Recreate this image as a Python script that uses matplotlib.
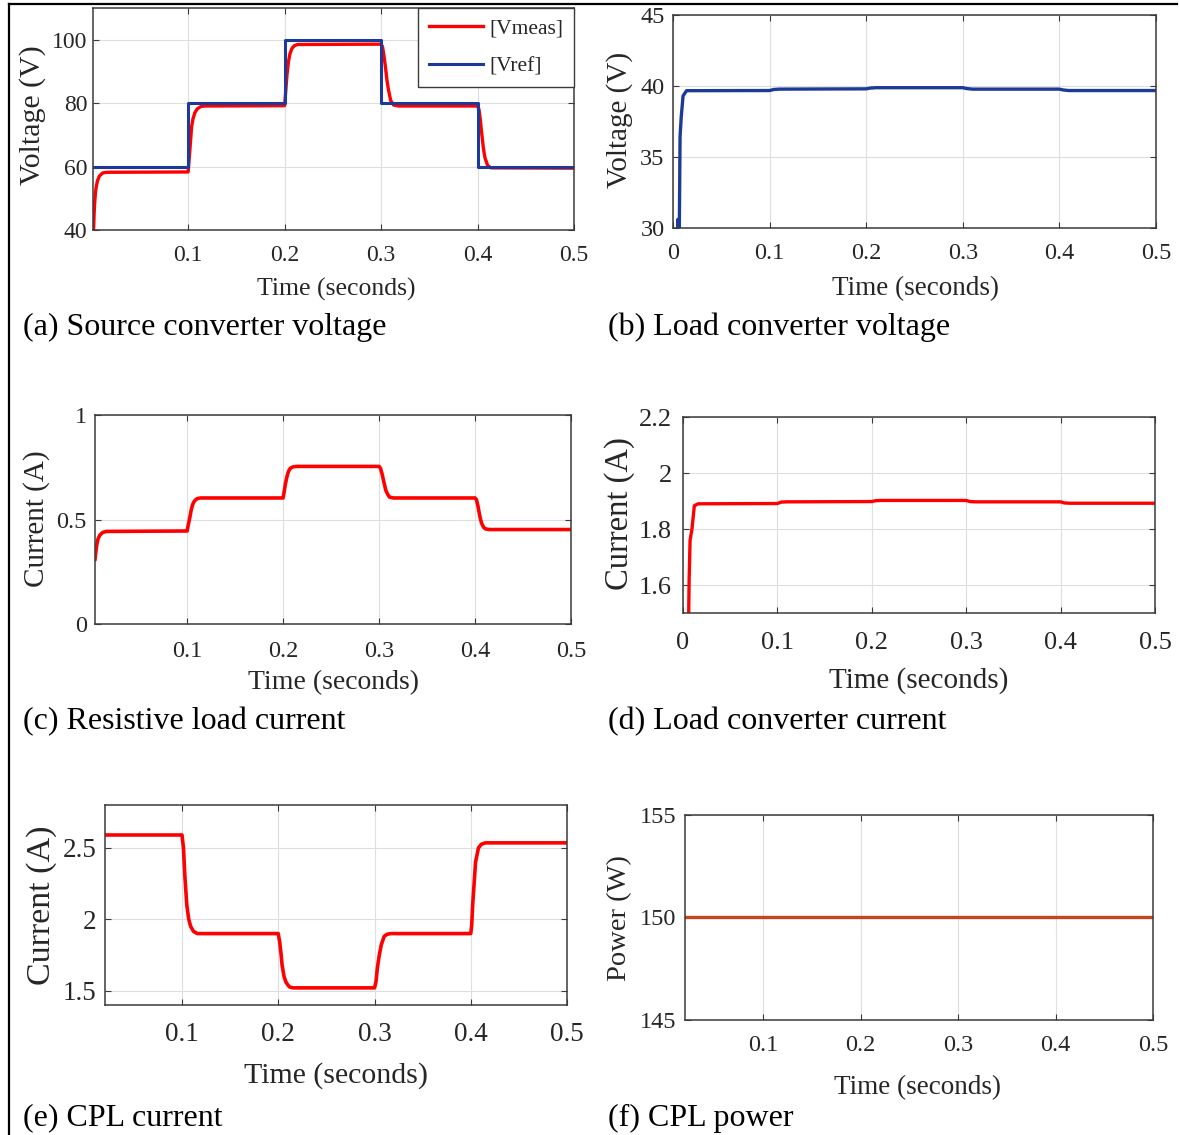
import matplotlib
matplotlib.use("Agg")
import matplotlib.pyplot as plt
from matplotlib.lines import Line2D
from matplotlib.ticker import FuncFormatter

plt.rcParams["font.family"] = ["Liberation Serif", "DejaVu Serif"]

# ---------------- data ----------------
# (a) source converter voltage
t_vref = [0.0014, 0.1, 0.1, 0.2, 0.2, 0.3, 0.3, 0.4, 0.4, 0.5]
v_ref = [60, 60, 80, 80, 100, 100, 80, 80, 60, 60]
t_vmeas = [0.0014, 0.002, 0.0025, 0.003, 0.004, 0.005, 0.006, 0.008, 0.0115, 0.016,
           0.1, 0.101, 0.1025, 0.1036, 0.105, 0.107, 0.1095, 0.1135, 0.118,
           0.2, 0.201, 0.2025, 0.204, 0.2055, 0.2075, 0.21, 0.2135, 0.218,
           0.3, 0.3015, 0.303, 0.3045, 0.306, 0.3075, 0.31, 0.313, 0.318,
           0.4, 0.4015, 0.403, 0.4045, 0.406, 0.4075, 0.4105, 0.414, 0.5]
v_meas = [36, 40, 44.5, 48, 52, 54, 55.5, 57, 58, 58.2,
          58.3, 62, 68, 72.5, 75, 77, 78.2, 79, 79.1,
          79.2, 83, 89, 93, 95.5, 97.2, 98.1, 98.5, 98.5,
          98.6, 97.8, 95, 91.5, 87.5, 84.5, 80.8, 79.4, 79.1,
          79.1, 78, 74.5, 70, 66, 63, 60.3, 59.6, 59.5]

# (b) load converter voltage
t_vload = [0.0045, 0.005, 0.0055, 0.0065, 0.0073, 0.0085, 0.0104, 0.014,
           0.1, 0.104, 0.11, 0.2, 0.204, 0.21, 0.3, 0.304, 0.31,
           0.4, 0.404, 0.41, 0.5]
v_load = [29.5, 30.6, 29.5, 29.5, 36.4, 37.8, 39.3, 39.67,
          39.68, 39.75, 39.78, 39.8, 39.85, 39.88, 39.88, 39.82, 39.78,
          39.78, 39.72, 39.68, 39.68]

# (c) resistive load current
t_ir = [0.004, 0.0055, 0.007, 0.009, 0.012, 0.016,
        0.1, 0.101, 0.1024, 0.104, 0.1056, 0.1075, 0.1104, 0.114,
        0.2, 0.201, 0.2024, 0.204, 0.2056, 0.2075, 0.2104, 0.214,
        0.3, 0.3015, 0.303, 0.304, 0.3055, 0.307, 0.309, 0.311, 0.315,
        0.4, 0.4015, 0.403, 0.404, 0.4055, 0.407, 0.409, 0.411, 0.415, 0.5]
i_r = [0.31, 0.37, 0.405, 0.425, 0.438, 0.443,
       0.445, 0.47, 0.5, 0.54, 0.57, 0.588, 0.6, 0.603,
       0.603, 0.63, 0.67, 0.705, 0.73, 0.745, 0.752, 0.754,
       0.754, 0.745, 0.72, 0.7, 0.67, 0.64, 0.62, 0.607, 0.603,
       0.603, 0.595, 0.565, 0.54, 0.505, 0.48, 0.462, 0.455, 0.452, 0.452]

# (d) load converter current
t_iload = [0.006, 0.0065, 0.0075, 0.0095, 0.012, 0.016,
           0.1, 0.104, 0.11, 0.2, 0.204, 0.21, 0.3, 0.304, 0.31,
           0.4, 0.404, 0.41, 0.5]
i_load = [1.49, 1.62, 1.76, 1.80, 1.883, 1.89,
          1.891, 1.896, 1.897, 1.898, 1.901, 1.902, 1.902, 1.898, 1.897,
          1.897, 1.893, 1.892, 1.892]

# (e) CPL current
t_icpl = [0.02, 0.1, 0.1015, 0.103, 0.105, 0.107, 0.109, 0.112, 0.116,
          0.2, 0.2015, 0.203, 0.204, 0.206, 0.208, 0.21, 0.212, 0.216,
          0.3, 0.3015, 0.303, 0.305, 0.307, 0.31, 0.313, 0.317,
          0.4, 0.401, 0.402, 0.4035, 0.405, 0.408, 0.411, 0.415, 0.5]
i_cpl = [2.59, 2.59, 2.5, 2.3, 2.1, 2.0, 1.95, 1.915, 1.9,
         1.9, 1.84, 1.75, 1.68, 1.6, 1.56, 1.54, 1.525, 1.52,
         1.52, 1.56, 1.66, 1.75, 1.82, 1.88, 1.895, 1.9,
         1.9, 1.96, 2.1, 2.25, 2.4, 2.5, 2.525, 2.535, 2.535]

# (f) CPL power
t_pcpl = [0.02, 0.5]
p_cpl = [150, 150]

x_ticks = [0.1, 0.2, 0.3, 0.4, 0.5]
x_ticks0 = [0, 0.1, 0.2, 0.3, 0.4, 0.5]

captions = ["(a) Source converter voltage", "(b) Load converter voltage",
            "(c) Resistive load current", "(d) Load converter current",
            "(e) CPL current", "(f) CPL power"]

# ---------------- figure ----------------
W, H = 1179, 1135
fig = plt.figure(figsize=(W / 100, H / 100), dpi=100)

RED = "#ff0000"
BLUE = "#1c3a98"
ORANGE = "#c4461a"
TXT = "#262626"


def fx(x):
    return x / W


def fy(y):
    return 1 - y / H


def make_axes(l, t, r, b):
    return fig.add_axes([l / W, 1 - b / H, (r - l) / W, (b - t) / H])


fmt = FuncFormatter(lambda v, p: f"{v:g}")


def style(ax, xlim, ylim, xt, yt, fs, xpad=12, ypad=4):
    ax.set_xlim(*xlim)
    ax.set_ylim(*ylim)
    ax.set_xticks(xt)
    ax.set_yticks(yt)
    ax.xaxis.set_major_formatter(fmt)
    ax.yaxis.set_major_formatter(fmt)
    ax.grid(True, color="#dedede", lw=0.8)
    ax.set_axisbelow(True)
    for s in ax.spines.values():
        s.set_color("#3a3a3a")
        s.set_linewidth(1.1)
    ax.tick_params(direction="in", length=4, width=0.8, top=True, right=True,
                   colors="#3a3a3a", labelcolor=TXT, labelsize=fs)
    ax.tick_params(axis="x", pad=xpad)
    ax.tick_params(axis="y", pad=ypad)


def labels(xl_xy, xl, xfs, yl_xy, yl, yfs):
    fig.text(fx(xl_xy[0]), fy(xl_xy[1]), xl, ha="center", va="center",
             fontsize=xfs, color=TXT)
    fig.text(fx(yl_xy[0]), fy(yl_xy[1]), yl, ha="center", va="center",
             fontsize=yfs, color=TXT, rotation=90)


# (a)
ax = make_axes(93, 8, 574, 230)
ax.plot(t_vmeas, v_meas, color=RED, lw=2.4, label="[Vmeas]", solid_joinstyle="round")
ax.plot(t_vref, v_ref, color=BLUE, lw=2.2, label="[Vref]")
style(ax, (0.0014, 0.5), (40, 110), x_ticks, [40, 60, 80, 100], 17, xpad=11)
leg = ax.legend(loc="upper right", bbox_to_anchor=(1, 1), borderaxespad=0,
                fancybox=False, framealpha=1, edgecolor="#3a3a3a", fontsize=15.5,
                handlelength=2.5, handletextpad=0.3, labelspacing=0.8,
                borderpad=0.5)
leg.get_frame().set_linewidth(1.0)
for txt in leg.get_texts():
    txt.set_color(TXT)
labels((336, 289), "Time (seconds)", 18.5, (33, 115), "Voltage (V)", 21.5)

# (b)
ax = make_axes(673, 15, 1156, 228)
ax.plot(t_vload, v_load, color=BLUE, lw=2.4)
style(ax, (0, 0.5), (30, 45), x_ticks0, [30, 35, 40, 45], 17.5, xpad=11, ypad=6)
labels((915, 289), "Time (seconds)", 19.5, (620, 120), "Voltage (V)", 21)

# (c)
ax = make_axes(95, 415, 571, 624)
ax.plot(t_ir, i_r, color=RED, lw=2.6)
style(ax, (0.004, 0.5), (0, 1), x_ticks, [0, 0.5, 1], 17.5, xpad=12, ypad=6)
labels((333, 683), "Time (seconds)", 20, (37, 519), "Current (A)", 21)

# (d)
ax = make_axes(683, 417, 1155, 613)
ax.plot(t_iload, i_load, color=RED, lw=2.4)
style(ax, (0, 0.5), (1.5, 2.2), x_ticks0, [1.6, 1.8, 2.0, 2.2], 19, xpad=14, ypad=8)
labels((919, 681), "Time (seconds)", 21, (620, 514), "Current (A)", 23.5)

# (e)
ax = make_axes(105, 805, 567, 1005)
ax.plot(t_icpl, i_cpl, color=RED, lw=2.6)
style(ax, (0.02, 0.5), (1.4, 2.8), x_ticks, [1.5, 2.0, 2.5], 19.5, xpad=12, ypad=6)
labels((336, 1076), "Time (seconds)", 21.5, (42, 905), "Current (A)", 24.5)

# (f)
ax = make_axes(685, 815, 1153, 1020)
ax.plot(t_pcpl, p_cpl, color=ORANGE, lw=2.4)
style(ax, (0.02, 0.5), (145, 155), x_ticks, [145, 150, 155], 17.5, xpad=11, ypad=6)
labels((917, 1088), "Time (seconds)", 19.5, (620, 918), "Power (W)", 20.5)

# sub-figure captions
cap_pos = [(23, 327), (608, 327), (23, 722), (608, 722), (23, 1118), (608, 1118)]
for (x, y), c in zip(cap_pos, captions):
    fig.text(fx(x), fy(y), c, ha="left", va="center", fontsize=23, color="black")

# page frame lines
fig.add_artist(Line2D([fx(9), fx(1177)], [fy(4), fy(4)], color="black", lw=1.6,
                      transform=fig.transFigure))
fig.add_artist(Line2D([fx(9), fx(9)], [fy(4), fy(1135)], color="black", lw=1.6,
                      transform=fig.transFigure))

fig.savefig("out.png", dpi=100)
